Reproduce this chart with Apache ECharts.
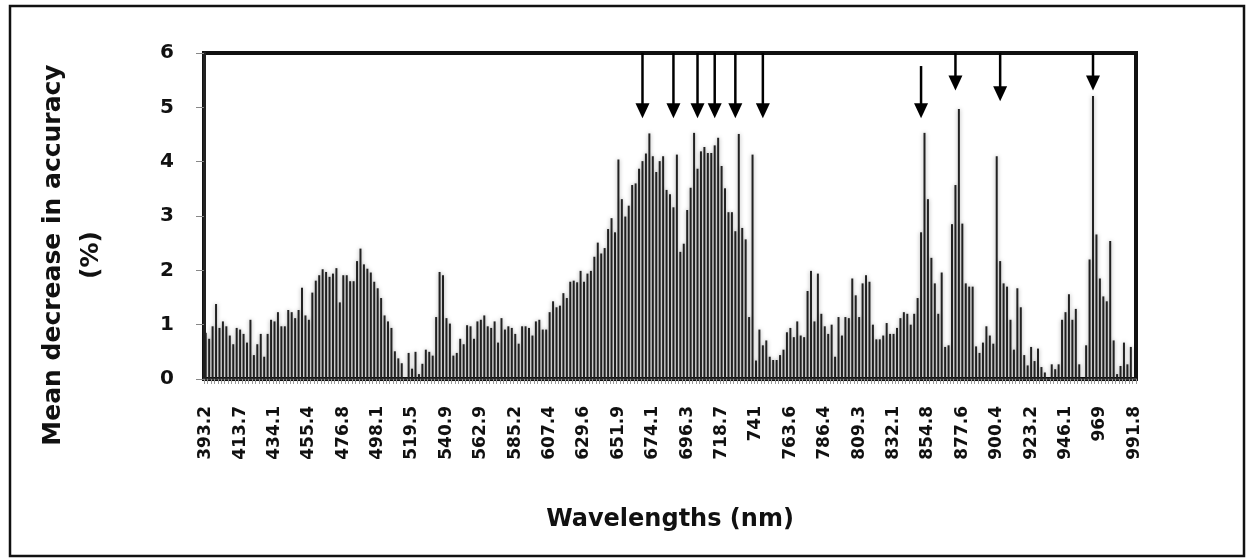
<!DOCTYPE html>
<html>
<head>
<meta charset="utf-8">
<title>Mean decrease in accuracy by wavelength</title>
<script src="https://cdn.jsdelivr.net/npm/echarts@6/dist/echarts.min.js"></script>
<style>
	html, body { margin: 0; padding: 0; background: #fff; }
	#echartBands { width: 1246px; height: 558px; }
</style>
</head>
<body>
<div id="echartBands"></div>
<script>
	// wavelength label printed under every 10th band
	var tickLabels = ['393.2', '413.7', '434.1', '455.4', '476.8', '498.1', '519.5', '540.9', '562.9', '585.2',
		'607.4', '629.6', '651.9', '674.1', '696.3', '718.7', '741', '763.6', '786.4', '809.3',
		'832.1', '854.8', '877.6', '900.4', '923.2', '946.1', '969', '991.8'];
	var bandStep = 10;

	// mean decrease in accuracy (%), one value per band
	var accuracyDrop = [
		0.85, 0.74, 0.97, 1.38, 0.94, 1.06, 0.97, 0.80, 0.64, 0.94,
		0.91, 0.83, 0.67, 1.09, 0.44, 0.64, 0.83, 0.41, 0.83, 1.09,
		1.06, 1.23, 0.97, 0.97, 1.27, 1.23, 1.12, 1.27, 1.68, 1.17,
		1.09, 1.59, 1.81, 1.91, 2.02, 1.97, 1.88, 1.94, 2.04, 1.41,
		1.91, 1.91, 1.80, 1.80, 2.17, 2.40, 2.11, 2.03, 1.96, 1.79,
		1.67, 1.49, 1.17, 1.06, 0.94, 0.51, 0.38, 0.29, 0.03, 0.48,
		0.19, 0.50, 0.09, 0.28, 0.54, 0.50, 0.43, 1.14, 1.97, 1.91,
		1.12, 1.02, 0.43, 0.48, 0.74, 0.64, 0.99, 0.97, 0.74, 1.06,
		1.09, 1.17, 0.97, 0.94, 1.06, 0.67, 1.12, 0.91, 0.97, 0.94,
		0.83, 0.65, 0.97, 0.97, 0.94, 0.80, 1.06, 1.09, 0.91, 0.91,
		1.23, 1.43, 1.32, 1.35, 1.58, 1.49, 1.79, 1.81, 1.78, 1.99,
		1.79, 1.94, 1.99, 2.25, 2.51, 2.31, 2.41, 2.76, 2.96, 2.70,
		4.04, 3.31, 2.99, 3.19, 3.57, 3.60, 3.87, 4.01, 4.15, 4.52,
		4.10, 3.81, 4.01, 4.10, 3.48, 3.40, 3.16, 4.13, 2.34, 2.49,
		3.11, 3.52, 4.53, 3.87, 4.19, 4.27, 4.16, 4.16, 4.30, 4.44,
		3.92, 3.51, 3.07, 3.07, 2.72, 4.51, 2.78, 2.57, 1.14, 4.13,
		0.34, 0.91, 0.62, 0.71, 0.41, 0.35, 0.35, 0.44, 0.54, 0.86,
		0.94, 0.77, 1.06, 0.80, 0.77, 1.62, 1.99, 1.06, 1.94, 1.20,
		0.97, 0.83, 1.00, 0.41, 1.14, 0.80, 1.14, 1.12, 1.85, 1.54,
		1.14, 1.76, 1.91, 1.79, 1.00, 0.73, 0.73, 0.80, 1.03, 0.83,
		0.83, 0.94, 1.12, 1.23, 1.20, 1.00, 1.20, 1.49, 2.70, 4.53,
		3.31, 2.23, 1.76, 1.20, 1.96, 0.59, 0.62, 2.85, 3.57, 4.97,
		2.86, 1.76, 1.70, 1.70, 0.60, 0.48, 0.67, 0.97, 0.80, 0.65,
		4.10, 2.17, 1.76, 1.70, 1.09, 0.54, 1.67, 1.32, 0.44, 0.25,
		0.59, 0.33, 0.56, 0.22, 0.12, 0.02, 0.27, 0.18, 0.27, 1.09,
		1.23, 1.56, 1.09, 1.29, 0.27, 0.02, 0.62, 2.20, 5.21, 2.66,
		1.85, 1.52, 1.43, 2.54, 0.71, 0.09, 0.24, 0.67, 0.27, 0.59,
		0
	];

	// arrows marking the selected bands (band index from 0)
	var arrowBands = [127, 136, 143, 148, 154, 162, 208, 218, 231, 258];
	var arrowStarts = [6, 6, 6, 6, 6, 6, 5.76, 6, 6, 6];
	var arrowTips = [4.8, 4.8, 4.8, 4.8, 4.8, 4.8, 4.8, 5.31, 5.11, 5.31];

	var bands = [];
	for (var i = 0; i < accuracyDrop.length; i++) {
		bands.push(String(i + 1));
	}
	var arrowData = [];
	for (var j = 0; j < arrowBands.length; j++) {
		arrowData.push([arrowBands[j], arrowStarts[j], arrowTips[j]]);
	}

	function renderArrow(params, api) {
		var start = api.coord([api.value(0), api.value(1)]);
		var tip = api.coord([api.value(0), api.value(2)]);
		var headH = 15, headW = 7;
		return {
			type: 'group',
			children: [{
				type: 'line',
				shape: { x1: start[0], y1: start[1], x2: tip[0], y2: tip[1] - headH + 1 },
				style: { stroke: '#000', lineWidth: 2.5 }
			}, {
				type: 'polygon',
				shape: { points: [[tip[0] - headW, tip[1] - headH], [tip[0] + headW, tip[1] - headH], [tip[0], tip[1]]] },
				style: { fill: '#000' }
			}]
		};
	}

	var labelFont = 'DejaVu Sans';
	var bandChart = echarts.init(document.getElementById('echartBands'));
	var bandOption = {
		animation: false,
		backgroundColor: '#fff',
		grid: {
			left: 204,
			top: 53,
			width: 932,
			height: 326,
			show: true,
			borderColor: '#111',
			borderWidth: 4,
			containLabel: false
		},
		graphic: [{
			type: 'rect',
			silent: true,
			shape: { x: 10, y: 6, width: 1234, height: 550 },
			style: { fill: null, stroke: '#111', lineWidth: 2.5 }
		}, {
			type: 'text',
			silent: true,
			x: 72,
			y: 255,
			rotation: Math.PI / 2,
			style: {
				text: 'Mean decrease in accuracy\n(%)',
				align: 'center',
				verticalAlign: 'middle',
				font: 'bold 25px "DejaVu Sans"',
				lineHeight: 38,
				fill: '#111'
			}
		}],
		xAxis: {
			type: 'category',
			data: bands,
			name: 'Wavelengths (nm)',
			nameLocation: 'middle',
			nameGap: 129,
			nameTextStyle: { fontFamily: labelFont, fontWeight: 'bold', fontSize: 24, color: '#111' },
			axisLine: { show: true, lineStyle: { color: '#444', width: 2 } },
			axisTick: { show: true, interval: 0, length: 5, lineStyle: { color: '#999', width: 1 } },
			axisLabel: {
				interval: bandStep - 1,
				rotate: 90,
				margin: 27,
				fontFamily: labelFont,
				fontWeight: 'bold',
				fontSize: 17,
				color: '#111',
				formatter: function (value, index) {
					return index % bandStep === 0 ? tickLabels[index / bandStep] : '';
				}
			},
			splitLine: { show: false }
		},
		yAxis: {
			type: 'value',
			min: 0,
			max: 6,
			interval: 1,
			axisLine: { show: true, lineStyle: { color: '#222', width: 3 } },
			axisTick: { show: true, length: 8, lineStyle: { color: '#888', width: 1 } },
			axisLabel: { margin: 30, fontFamily: labelFont, fontWeight: 'bold', fontSize: 20, color: '#111' },
			splitLine: { show: false }
		},
		series: [{
			type: 'bar',
			data: accuracyDrop,
			barWidth: 2,
			itemStyle: {
				color: '#222',
				shadowColor: 'rgba(0, 0, 0, 0.35)',
				shadowBlur: 4
			}
		}, {
			type: 'custom',
			renderItem: renderArrow,
			encode: { x: 0, y: [1, 2] },
			data: arrowData,
			z: 5
		}]
	};
	bandChart.setOption(bandOption);
	window.addEventListener("resize", function() {
		bandChart.resize();
	});
</script>
</body>
</html>
